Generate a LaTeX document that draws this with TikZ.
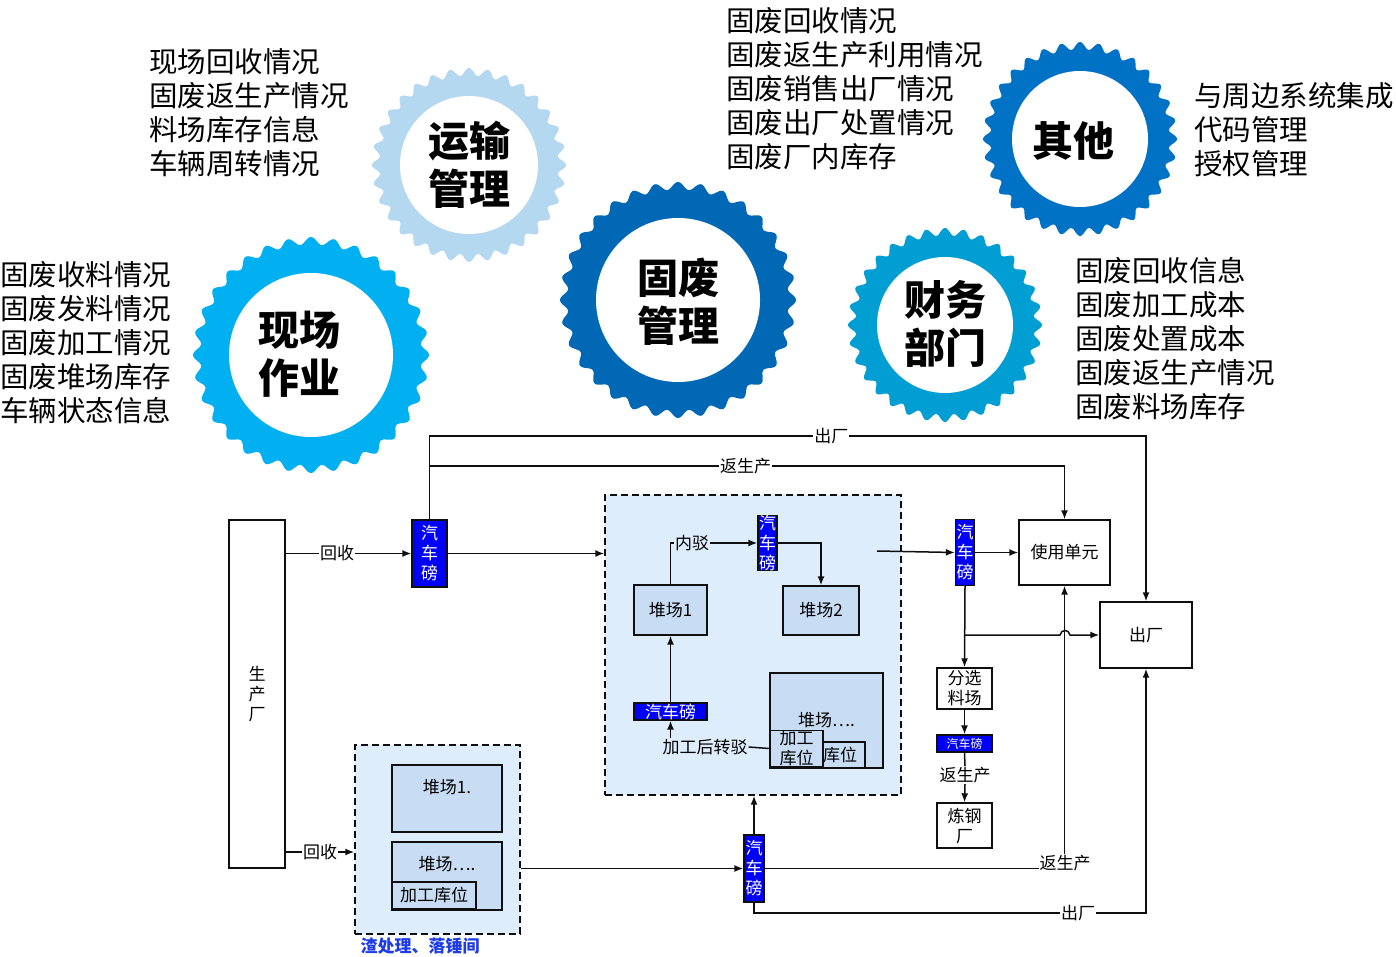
\documentclass[tikz,border=0pt]{standalone}
\usepackage{fontspec}
\setmainfont{Noto Sans CJK SC}
\usetikzlibrary{arrows.meta}

\definecolor{gearA}{RGB}{0,176,240}
\definecolor{gearB}{RGB}{180,216,240}
\definecolor{gearC}{RGB}{0,104,180}
\definecolor{gearD}{RGB}{0,158,210}
\definecolor{gearE}{RGB}{0,114,198}
\definecolor{zonefill}{RGB}{222,237,252}
\definecolor{yardfill}{RGB}{200,221,243}
\definecolor{scaleblue}{RGB}{0,0,250}
\definecolor{zonetext}{RGB}{30,60,230}
\definecolor{ink}{RGB}{15,15,15}

% scalloped ring: centre x, centre y, outer radius, inner radius, colour
\newcommand{\cogring}[5]{%
  \fill[#5] plot[domain=0:360,samples=480,variable=\t]
    ({#1+(#3-3.8+3.8*cos(32*\t))*cos(\t)},{#2+(#3-3.8+3.8*cos(32*\t))*sin(\t)}) -- cycle;
  \fill[white] (#1,#2) circle[radius=#4pt];
}

\tikzset{
  fs/.style={font=\fontsize{17}{20}\selectfont},
  box/.style={draw=ink, line width=1.4pt, inner sep=0pt, fill=white, fs, align=center},
  yard/.style={box, fill=yardfill},
  weigh/.style={draw=ink, line width=1.3pt, fill=scaleblue, text=white, inner sep=0pt, fs, align=center},
  zone/.style={draw=ink, line width=1.4pt, dash pattern=on 7pt off 4pt, fill=zonefill, inner sep=0pt},
  link/.style={draw=ink, line width=1.5pt},
  arr/.style={link, -{Latex[length=9pt,width=7pt]}},
  lbl/.style={fill=white, inner sep=1pt, fs},
  zlbl/.style={lbl, fill=zonefill},
  gearlbl/.style={font=\fontsize{41}{48}\selectfont\bfseries, align=center, inner sep=0pt},
  topic/.style={font=\fontsize{28.5}{34}\selectfont, align=left, inner sep=0pt, anchor=west},
}

\begin{document}
\begin{tikzpicture}[x=1pt,y=-1pt]
\useasboundingbox (0,0) rectangle (1396,957);

% ---------- the five modules ----------
\cogring{469}{165}{97}{69}{gearB}
\cogring{311}{355}{118}{82}{gearA}
\cogring{678}{300}{118}{82}{gearC}
\cogring{945}{325}{97}{68}{gearD}
\cogring{1080}{139}{97}{68}{gearE}

\node[gearlbl] (gTrans) at (469,165) {运输\\管理};
\node[gearlbl] (gSite)  at (299,354) {现场\\作业};
\node[gearlbl] (gWaste) at (678,302) {固废\\管理};
\node[gearlbl] (gFin)   at (945,324) {财务\\部门};
\node[gearlbl] (gOther) at (1073,141) {其他};

\node[topic] (tTrans) at (149,113) {现场回收情况\\固废返生产情况\\料场库存信息\\车辆周转情况};
\node[topic] (tSite)  at (0,343)   {固废收料情况\\固废发料情况\\固废加工情况\\固废堆场库存\\车辆状态信息};
\node[topic] (tWaste) at (726,89)  {固废回收情况\\固废返生产利用情况\\固废销售出厂情况\\固废出厂处置情况\\固废厂内库存};
\node[topic] (tOther) at (1194,130) {与周边系统集成\\代码管理\\授权管理};
\node[topic] (tFin)   at (1075,339) {固废回收信息\\固废加工成本\\固废处置成本\\固废返生产情况\\固废料场库存};

% ---------- material flow ----------
\node[box, minimum width=56pt, minimum height=348pt] (plant) at (257,694) {生\\产\\厂};

\node[zone, minimum width=296pt, minimum height=300pt] (zoneA) at (753,645) {};
\node[zone, minimum width=165pt, minimum height=189pt] (zoneB) at (437.5,839.5) {};
\node[font=\fontsize{17}{20}\selectfont\bfseries, text=zonetext, inner sep=0pt] (zoneBname) at (420,946) {渣处理、落锤间};

\node[weigh, minimum width=35pt, minimum height=67pt] (sc1) at (429.5,553.5) {汽\\车\\磅};
\node[weigh, minimum width=19pt, minimum height=66pt] (sc2) at (965,552.5) {汽\\车\\磅};
\node[weigh, minimum width=55pt, minimum height=17pt, font=\fontsize{12}{13}\selectfont] (sc3) at (964.5,743.5) {汽车磅};
\node[weigh, minimum width=20pt, minimum height=67pt] (sc4) at (754,868.5) {汽\\车\\磅};

\node[box, minimum width=91pt, minimum height=65pt] (use) at (1064.5,552.5) {使用单元};
\node[box, minimum width=92pt, minimum height=66pt] (out) at (1146,635) {出厂};
\node[box, minimum width=55pt, minimum height=41pt] (sort) at (964.5,688.5) {分选\\料场};
\node[box, minimum width=55pt, minimum height=45pt] (steel) at (964.5,825.5) {炼钢\\厂};

% inside the main yard area
\node[yard, minimum width=73pt, minimum height=50pt] (yd1) at (670.5,610) {堆场1};
\node[yard, minimum width=76pt, minimum height=49pt] (yd2) at (821,610.5) {堆场2};
\node[weigh, minimum width=19pt, minimum height=50pt] (scs) at (767.5,543) {汽\\车\\磅};
\node[weigh, minimum width=73pt, minimum height=17pt] (sch) at (670.5,711.5) {汽车磅};
\node[yard, minimum width=113pt, minimum height=95pt] (ydN) at (826.5,720.5) {堆场….};
\node[yard, minimum width=92pt, minimum height=26pt,
      label={[fs, anchor=center, xshift=21pt]center:库位}] (kw) at (819,755) {};
\node[yard, minimum width=53pt, minimum height=33pt] (proc) at (796.5,748.5) {加工\\库位};
\node[zlbl] (afterproc) at (705,747) {加工后转驳};

% inside the slag area
\node[yard, minimum width=110pt, minimum height=67pt,
      label={[fs, anchor=center, yshift=-23pt]north:堆场1.}] (yb1) at (447,798.5) {};
\node[yard, minimum width=110pt, minimum height=68pt,
      label={[fs, anchor=center, yshift=-23pt]north:堆场….}] (ybN) at (447,876) {};
\node[yard, minimum width=84pt, minimum height=27pt] (kwb) at (434,895.5) {加工库位};

% helper coordinates
\coordinate (rowOut) at (0,436);
\coordinate (rowBack) at (0,466);
\coordinate (zAexit) at (877,551);
\coordinate (branch) at (965,635);
\coordinate (rowLow) at (0,913);

% connectors
\draw[arr] (plant.east |- sc1.west) -- node[lbl, pos=0.41] (lRec1) {回收} (sc1.west);
\draw[arr] (plant.east |- 0,852) -- node[lbl, pos=0.5] (lRec2) {回收} (zoneB.west |- 0,852);
\draw[arr] (sc1.east) -- (zoneA.west |- sc1.east);

\draw[arr] (sc1.north) -- (sc1.north |- rowOut) -- node[lbl, pos=0.561] (lOut1) {出厂} (out.north |- rowOut) -- (out.north);
\draw[arr] (sc1.north |- rowBack) -- node[lbl, pos=0.498] (lBack1) {返生产} (use.north |- rowBack) -- (use.north);

\draw[arr] (yd1.north) -- (yd1.north |- scs.west) -- node[zlbl, pos=0.25] (lInner) {内驳} (scs.west);
\draw[arr] (scs.east) -| (yd2.north);
\draw[arr] (sch.north) -- (yd1.south);
\draw[arr] (sch.south |- afterproc.north) -- (sch.south);
\draw[link] (afterproc.east) -- (proc.west);

\draw[arr] (zAexit) -- (sc2.west);
\draw[arr] (sc2.east) -- (use.west);
\draw[arr] (sc2.south) -- (sort.north);
\draw[arr] (branch) -- (1060,635) .. controls (1061,629) and (1069,629) .. (1070,635) -- (out.west);
\draw[arr] (sort.south) -- (sc3.north);
\node[lbl] (lBack2) at (965,775) {返生产};
\draw[link] (sc3.south) -- (lBack2.north);
\draw[arr] (lBack2.south) -- (steel.north);

\draw[arr] (zoneB.east |- sc4.west) -- (sc4.west);
\draw[arr] (sc4.north) -- (sc4.north |- zoneA.south);
\draw[arr] (sc4.east) -- (use.south |- sc4.east) -- (use.south);
\node[lbl] (lBack3) at (1065,863) {返生产};
\draw[arr] (sc4.south) -- (sc4.south |- rowLow) -- node[lbl, pos=0.827] (lOut2) {出厂} (out.south |- rowLow) -- (out.south);
\end{tikzpicture}
\end{document}
